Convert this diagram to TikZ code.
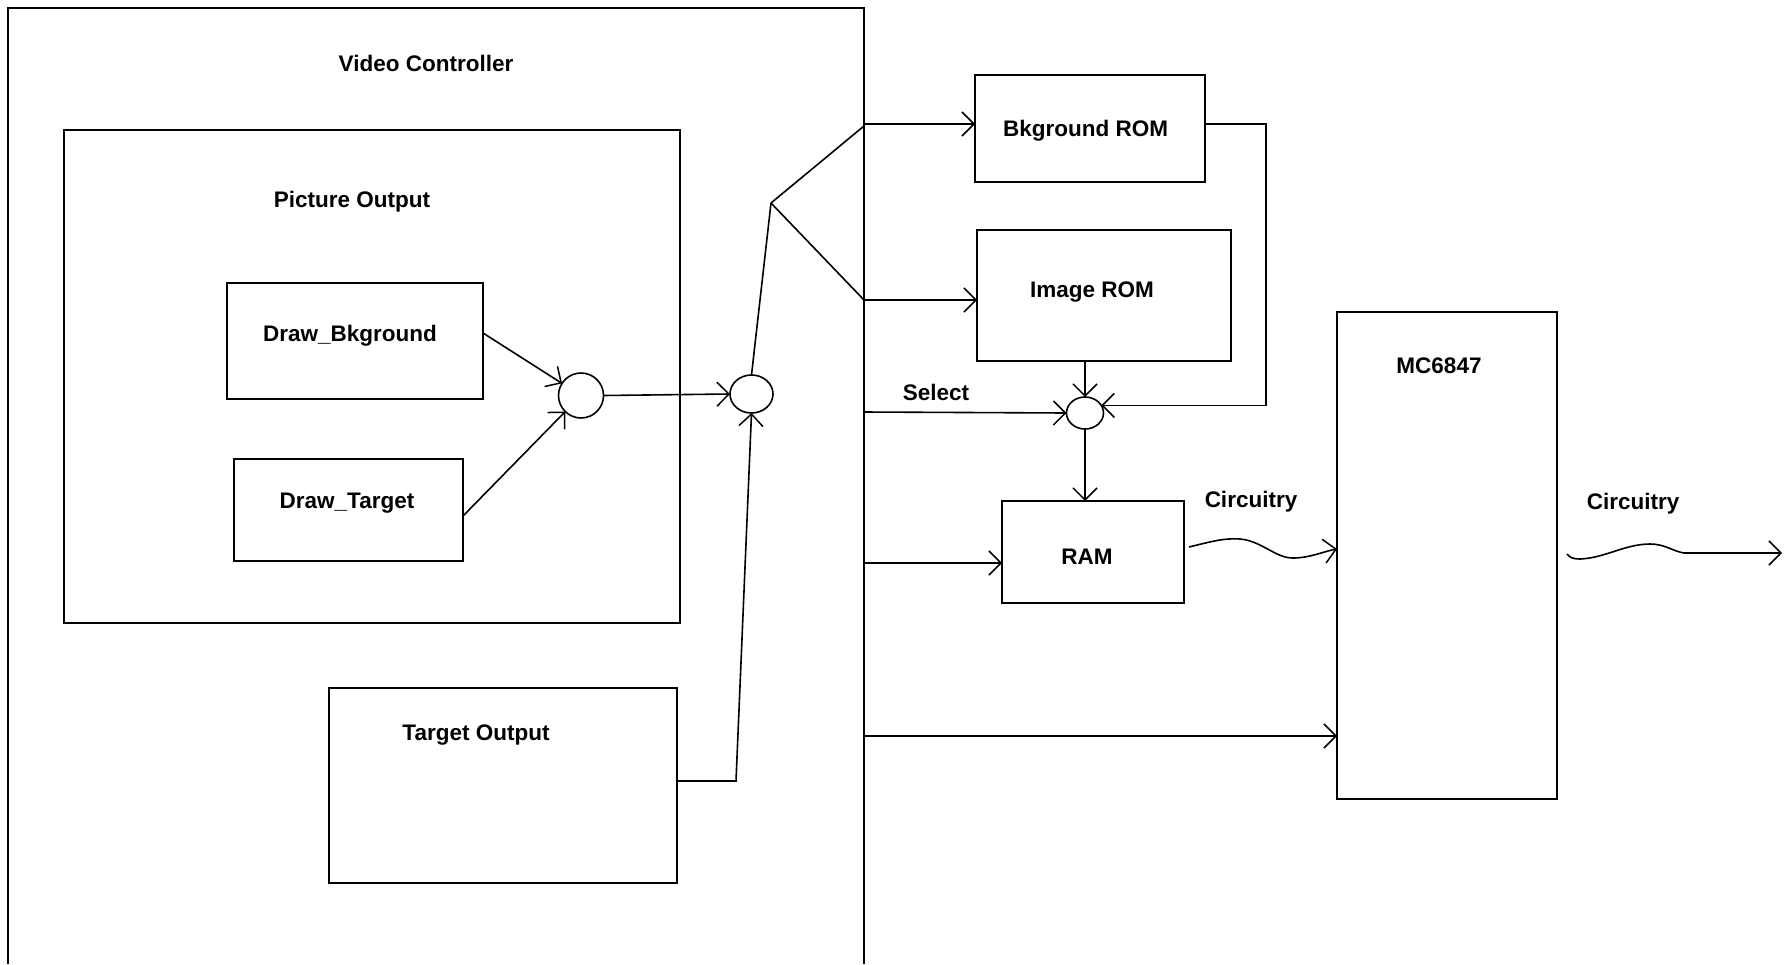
\documentclass[tikz,border=0pt]{standalone}
\usepackage{fontspec}
\setmainfont{Liberation Sans}
\usetikzlibrary{arrows.meta,shapes.geometric,calc}

\begin{document}
\begin{tikzpicture}[x=1pt,y=-1pt,
  box/.style={draw, line width=1.8pt, inner sep=0pt, outer sep=0pt},
  junct/.style={draw, ellipse, line width=1.6pt, inner sep=0pt, outer sep=0pt},
  lbl/.style={font=\fontsize{22.5}{27}\selectfont\bfseries, inner sep=0pt, text depth=0pt},
  wire/.style={line width=1.6pt},
  arr/.style={wire, -{Straight Barb[length=12pt,width=24pt,line width=1.5pt]}},
]
\fill[white] (0,0) rectangle (1787,964);
\useasboundingbox (0,0) rectangle (1787,964);

% Video controller enclosure (open at the bottom)
\draw[line width=1.8pt] (8,964) -- (8,8) -- (864,8) -- (864,964);
\coordinate (vcA) at (864,124);
\coordinate (vcB) at (864,300);
\coordinate (vcC) at (864,412);
\coordinate (vcD) at (864,563);
\coordinate (vcE) at (864,736);
\coordinate (jn)  at (771,203);

% Blocks
\node[box, minimum width=616pt, minimum height=493pt] (picout) at (372,376.5) {};
\node[box, minimum width=256pt, minimum height=116pt] (bkg)    at (355,341) {};
\node[box, minimum width=229pt, minimum height=102pt] (tgt)    at (348.5,510) {};
\node[box, minimum width=348pt, minimum height=195pt] (tout)   at (503,785.5) {};
\node[box, minimum width=230pt, minimum height=107pt] (bkrom)  at (1090,128.5) {};
\node[box, minimum width=254pt, minimum height=131pt] (imrom)  at (1104,295.5) {};
\node[box, minimum width=182pt, minimum height=102pt] (ram)    at (1093,552) {};
\node[box, minimum width=220pt, minimum height=487pt] (mc)     at (1447,555.5) {};

% Summing junctions
\node[junct, minimum width=45pt, minimum height=45pt] (c1) at (581,395.5) {};
\node[junct, minimum width=43pt, minimum height=38pt] (c2) at (751.5,394) {};
\node[junct, minimum width=37pt, minimum height=32pt] (c3) at (1085,413) {};

% Labels
\node[lbl] (lVC)   at (426,63)      {Video Controller};
\node[lbl] (lPic)  at (352,199.5)   {Picture Output};
\node[lbl] (lBkg)  at (350,333)     {Draw\_Bkground};
\node[lbl] (lTgt)  at (347,501)     {Draw\_Target};
\node[lbl] (lTout) at (476,733)     {Target Output};
\node[lbl] (lBrom) at (1085.6,128)  {Bkground ROM};
\node[lbl] (lIrom) at (1092,289.5)  {Image ROM};
\node[lbl] (lRam)  at (1087,557)    {RAM};
\node[lbl] (lMc)   at (1439,366)    {MC6847};
\node[lbl] (lSel)  at (936,392)     {Select};
\node[lbl] (lCir1) at (1251,499)    {Circuitry};
\node[lbl] (lCir2) at (1633,501.5)  {Circuitry};

% Picture output path
\draw[arr] ($(bkg.east)+(0,-8)$) -- (c1);
\draw[arr] ($(tgt.east)+(0,6)$) -- (c1);
\draw[arr] (c1.east) -- (c2.west);
\draw[arr] ($(tout.east)+(0,-4.5)$) -- (736,781) -- (c2.south);

% Fan-out to the ROMs
\draw[wire] (c2.north) -- (jn);
\draw[wire] (jn) -- ($(vcA)+(0,2)$);
\draw[wire] (jn) -- (vcB);
\draw[arr] (vcA) -- (vcA -| bkrom.west);
\draw[arr] (vcB) -- (vcB -| imrom.west);

% Select and ROM merge into RAM
\draw[arr] (vcC) -- (c3.west);
\draw[arr] (c3.north |- imrom.south) -- (c3.north);
\draw[arr] ($(bkrom.east)+(0,-4.5)$) -- (1266,124) |- (c3.25);
\draw[arr] (c3.south) -- (c3.south |- ram.north);
\draw[arr] (vcD) -- (vcD -| ram.west);
\draw[arr] (vcE) -- (vcE -| mc.west);

% Circuitry links
\coordinate (w1s) at ($(ram.east)+(5,-5)$);
\coordinate (w1e) at (mc.west |- 0,549);
\draw[arr] (w1s) .. controls (1210,542) and (1222,538) .. (1240,539)
  .. controls (1262,541) and (1275,558) .. (1293,558)
  .. controls (1310,558) and (1325,551) .. (w1e);
\coordinate (w2s) at ($(mc.east)+(10,-1.5)$);
\coordinate (vout) at (1782,553);
\draw[arr] (w2s) .. controls (1570,558) and (1574,559) .. (1580,559)
  .. controls (1605,558) and (1625,544) .. (1650,544)
  .. controls (1665,544) and (1672,551) .. (1684,553) -- (vout);
\end{tikzpicture}
\end{document}
